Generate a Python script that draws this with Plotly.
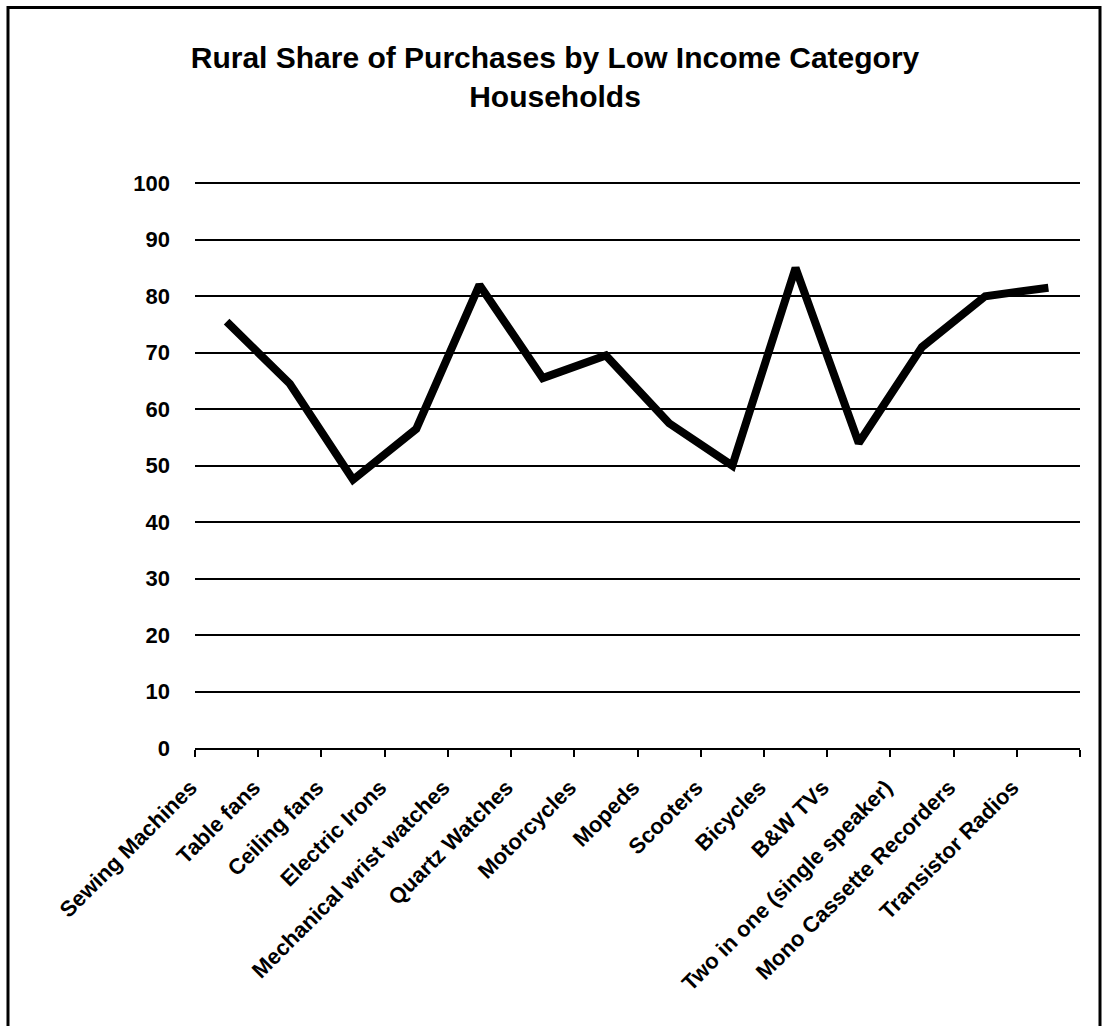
import plotly.graph_objects as go

categories = ["Sewing Machines", "Table fans", "Ceiling fans", "Electric Irons",
              "Mechanical wrist watches", "Quartz Watches", "Motorcycles", "Mopeds",
              "Scooters", "Bicycles", "B&W TVs", "Two in one (single speaker)",
              "Mono Cassette Recorders", "Transistor Radios"]
rural_share = [75.5, 64.5, 47.5, 56.5, 82, 65.5, 69.5, 57.5, 50, 85, 54, 71, 80, 81.5]
y_ticks = [0, 10, 20, 30, 40, 50, 60, 70, 80, 90, 100]

FONT = "Liberation Sans, Arial, sans-serif"

fig = go.Figure()
fig.add_trace(go.Scatter(
    x=categories, y=rural_share, mode="lines",
    line=dict(color="black", width=8), showlegend=False, hoverinfo="skip",
))

fig.update_layout(
    width=1110, height=1026,
    margin=dict(l=195, r=30, t=181, b=278),
    paper_bgcolor="white", plot_bgcolor="white",
    font=dict(family=FONT, color="black"),
    title=dict(
        text="<b>Rural Share of Purchases by Low Income Category<br>Households</b>",
        x=0.5, xref="container", xanchor="center",
        y=0.934, yref="container", yanchor="top",
        font=dict(family=FONT, size=30, color="black"),
    ),
    xaxis=dict(
        type="category", categoryorder="array", categoryarray=categories,
        range=[-0.5, len(categories) - 0.5],
        showgrid=False, zeroline=False,
        showline=True, linecolor="black", linewidth=2,
        ticks="outside", tickson="boundaries", ticklen=7, tickwidth=2, tickcolor="black",
        tickangle=-45, ticklabelstandoff=16, ticklabelshift=-36,
        tickfont=dict(family=FONT, size=22, color="black"),
        tickprefix="<b>", ticksuffix="</b>",
    ),
    yaxis=dict(
        range=[0, 100.4], tickvals=y_ticks, ticktext=[f"<b>{v}</b>" for v in y_ticks],
        showgrid=True, gridcolor="black", gridwidth=2,
        zeroline=False, showline=False, ticks="",
        ticklabelstandoff=24,
        tickfont=dict(family=FONT, size=22, color="black"),
    ),
    shapes=[dict(
        type="rect", xref="paper", yref="paper",
        x0=-0.2113, x1=1.0226, y0=-0.52, y1=1.306,
        line=dict(color="black", width=3), fillcolor="rgba(0,0,0,0)", layer="above",
    )],
)

fig.write_html("out.html")
